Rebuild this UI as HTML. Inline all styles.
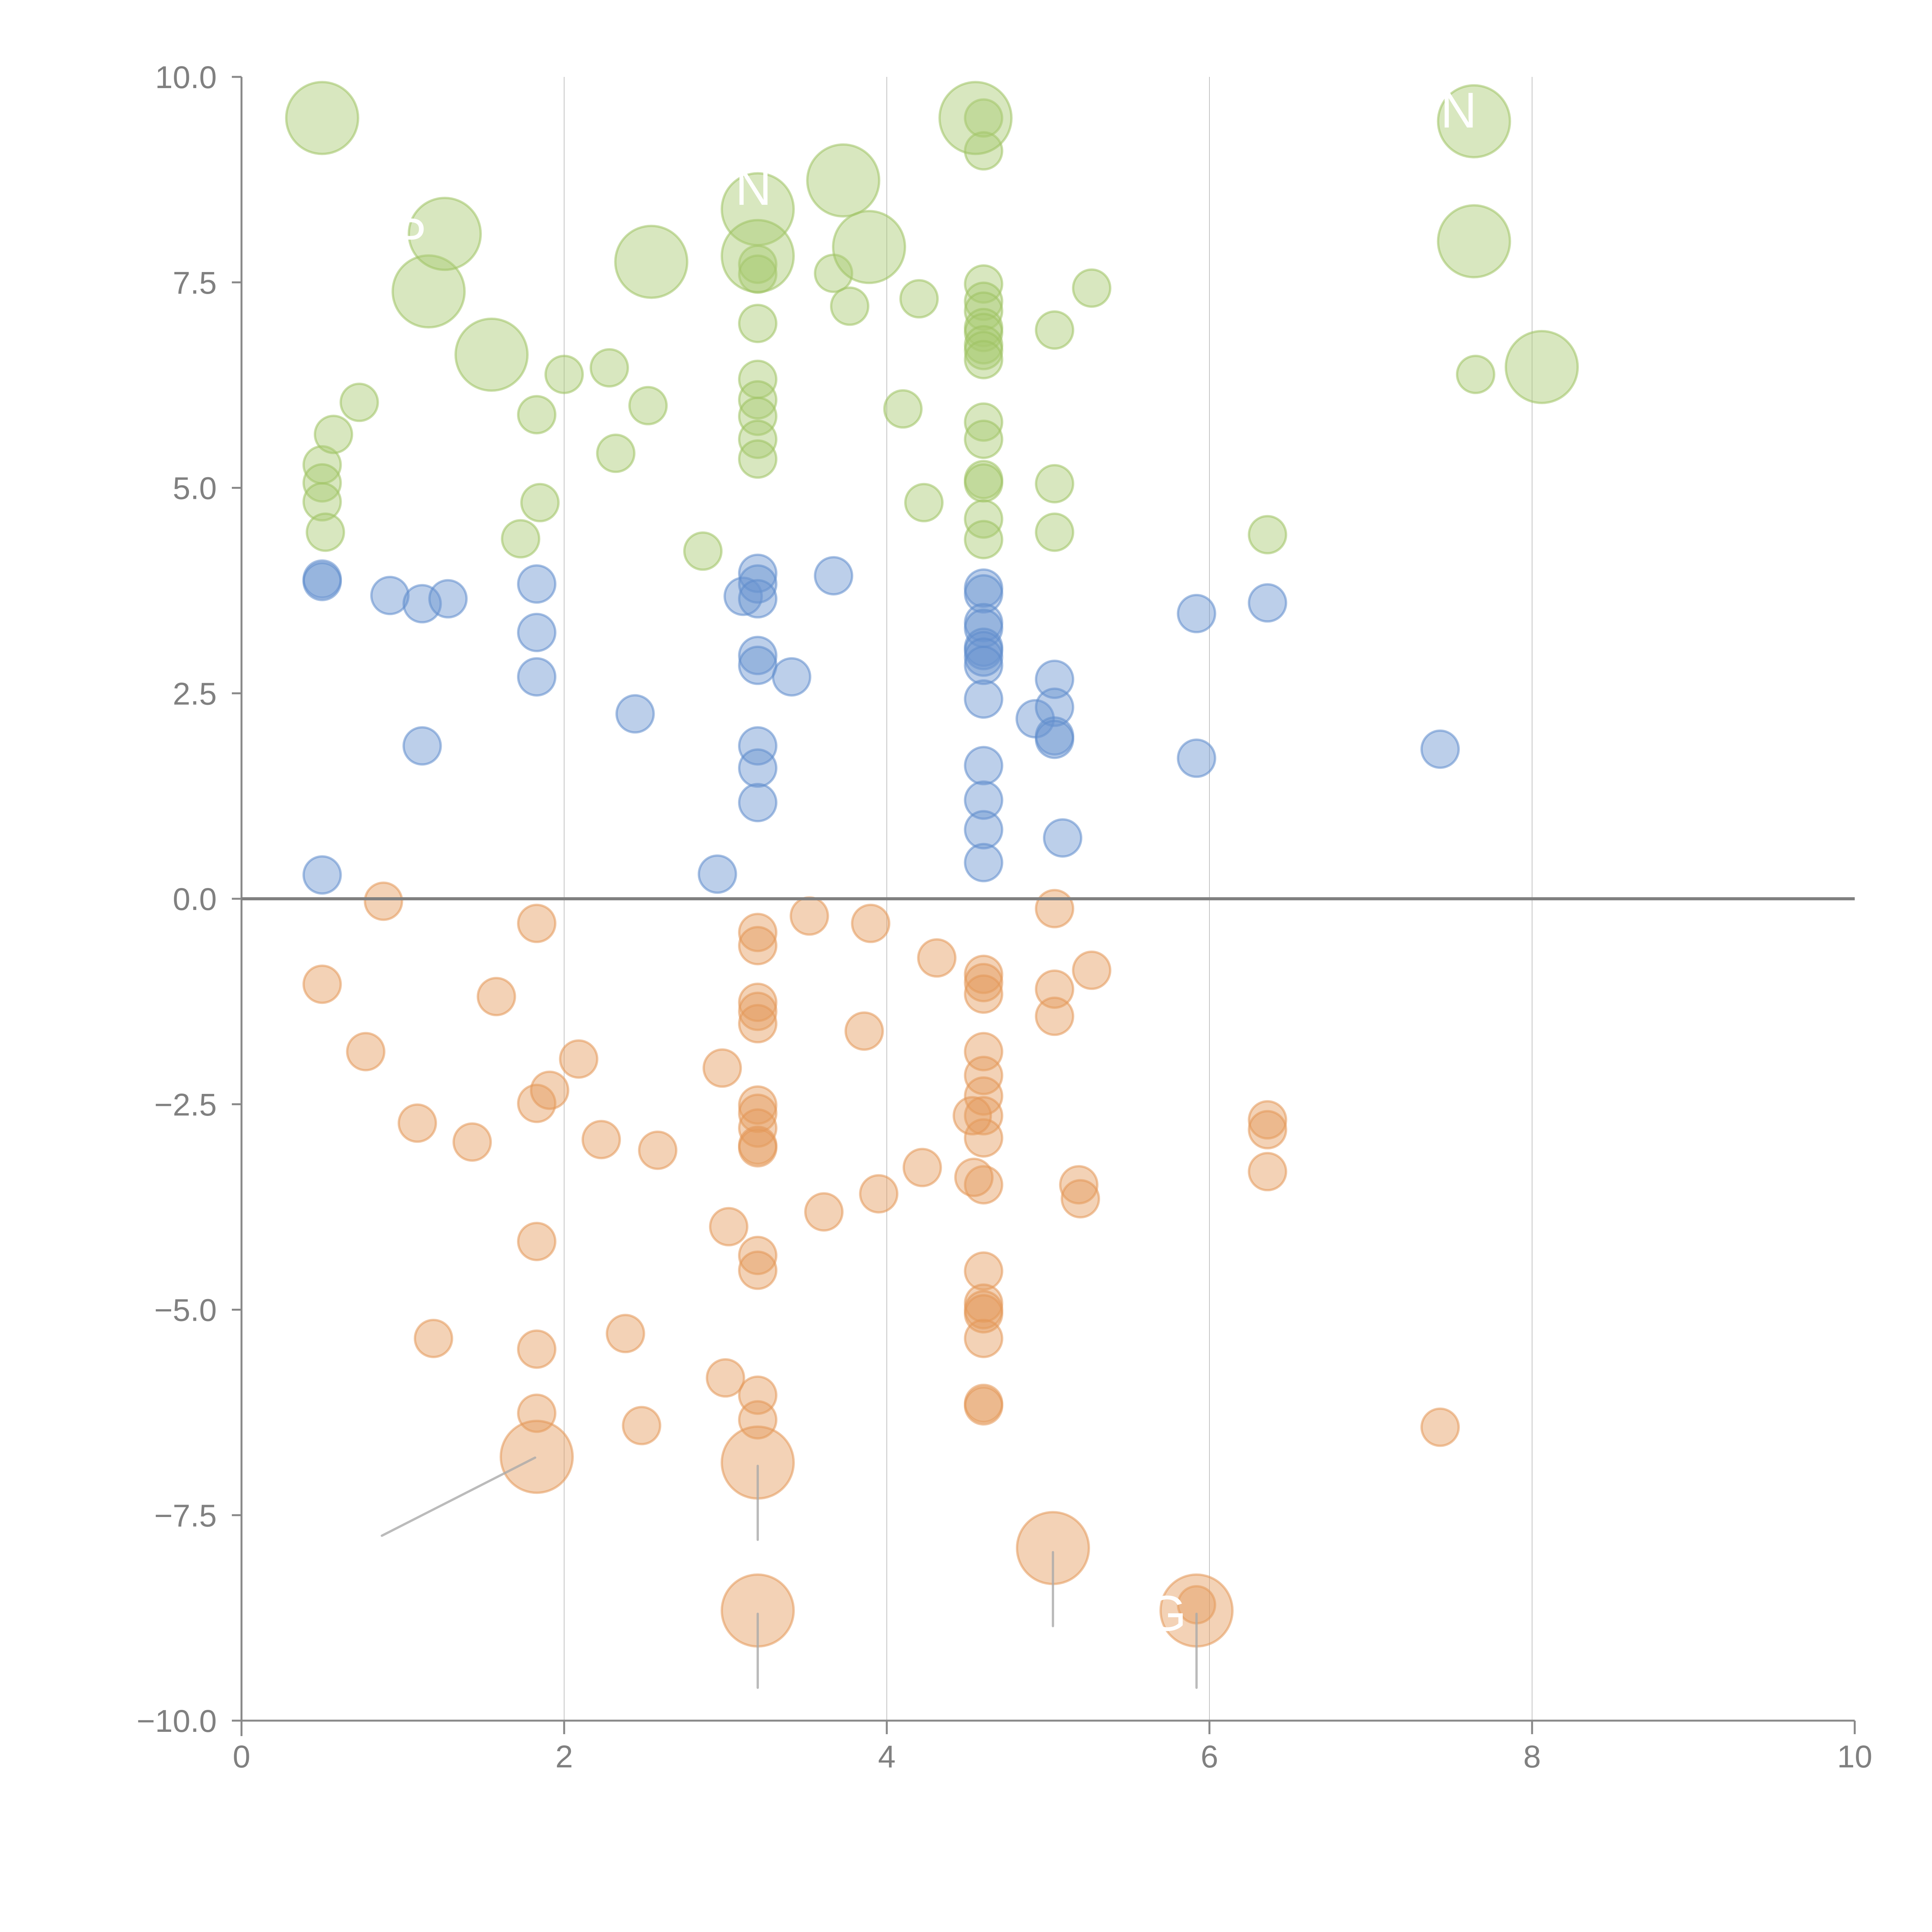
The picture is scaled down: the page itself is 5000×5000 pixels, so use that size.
<!DOCTYPE html>
<html><head><meta charset="utf-8"><style>
html,body{margin:0;padding:0;background:#fff;}
svg{display:block;}
text{font-family:"Liberation Sans",sans-serif;}
</style></head><body>
<svg id="chart" width="5000" height="5000" viewBox="0 0 5000 5000" xmlns="http://www.w3.org/2000/svg"></svg>
<script>
const xTicks=[0,2,4,6,8,10];
const xTickLabels=["0","2","4","6","8","10"];
const yTicks=[-10,-7.5,-5,-2.5,0,2.5,5,7.5,10];
const yTickLabels=["\u221210.0","\u22127.5","\u22125.0","\u22122.5","0.0","2.5","5.0","7.5","10.0"];
// green series: x, y, size (1 small, 2 large)
const greenX=[0.5,0.5,0.5,0.52,0.57,0.73,1.73,1.83,1.85,2.0,2.28,2.32,2.52,2.86,3.2,3.2,3.2,3.2,3.2,3.2,3.2,3.2,3.67,3.77,4.1,4.2,4.23,4.6,4.6,4.6,4.6,4.6,4.6,4.6,4.6,4.6,4.6,4.6,4.6,4.6,4.6,4.6,4.6,5.04,5.04,5.04,5.27,6.36,7.65,
0.5,1.16,1.26,1.55,2.54,3.2,3.2,3.73,3.89,4.55,7.64,7.64,8.06];
const greenY=[5.28,5.06,4.83,4.46,5.65,6.04,4.38,5.89,4.82,6.38,6.46,5.42,6.0,4.23,7.0,6.32,6.07,5.87,5.59,5.35,7.72,7.6,7.61,7.21,5.96,7.3,4.82,9.5,9.1,7.48,7.27,7.15,6.95,6.89,6.74,6.67,6.56,5.8,5.59,5.1,5.06,4.62,4.37,6.92,5.05,4.46,7.43,4.43,6.38,
9.5,7.39,8.09,6.62,7.75,8.39,7.82,8.74,7.93,9.5,9.46,8.0,6.47];
const greenSize=[1,1,1,1,1,1,1,1,1,1,1,1,1,1,1,1,1,1,1,1,1,1,1,1,1,1,1,1,1,1,1,1,1,1,1,1,1,1,1,1,1,1,1,1,1,1,1,1,1,
2,2,2,2,2,2,2,2,2,2,2,2,2];
const blueX=[0.5,0.5,0.5,0.92,1.12,1.28,1.12,1.83,1.83,1.83,2.44,2.95,3.11,3.2,3.2,3.2,3.2,3.2,3.2,3.2,3.2,3.41,3.67,4.6,4.6,4.6,4.6,4.6,4.6,4.6,4.6,4.6,4.6,4.6,4.6,4.6,4.92,5.04,5.04,5.04,5.04,5.09,5.92,5.92,6.36,7.43];
const blueY=[3.89,3.86,0.29,3.69,3.59,3.65,1.86,3.83,3.24,2.7,2.25,0.3,3.68,3.96,3.83,3.65,2.96,2.84,1.86,1.59,1.17,2.7,3.93,3.78,3.71,3.36,3.29,3.06,3.02,2.94,2.84,2.43,1.62,1.2,0.84,0.44,2.19,2.67,2.33,1.98,1.94,0.74,3.47,1.71,3.6,1.82];
const orangeX=[0.5,0.88,0.77,1.09,1.19,1.43,1.58,1.83,1.83,1.91,1.83,1.83,1.83,2.09,2.23,2.38,2.48,2.58,2.98,3.0,3.02,3.2,3.2,3.2,3.2,3.2,3.2,3.2,3.2,3.2,3.2,3.2,3.2,3.2,3.2,3.52,3.61,3.86,3.9,3.95,4.22,4.31,4.6,4.6,4.6,4.6,4.6,4.6,4.6,4.6,4.6,4.6,4.6,4.6,4.6,4.6,4.6,4.6,4.53,4.54,5.04,5.04,5.04,5.27,5.19,5.2,5.92,6.36,6.36,6.36,7.43,
1.83,3.2,3.2,5.03,5.92];
const orangeY=[-1.04,-0.03,-1.86,-2.73,-5.35,-2.96,-1.19,-0.3,-2.49,-2.33,-4.17,-5.48,-6.26,-1.95,-2.93,-5.29,-6.41,-3.06,-2.06,-5.83,-3.99,-0.41,-0.57,-1.26,-1.37,-1.52,-2.51,-2.61,-2.79,-3.0,-3.03,-4.34,-4.52,-6.04,-6.34,-0.21,-3.81,-1.61,-0.3,-3.59,-3.27,-0.72,-0.92,-1.02,-1.16,-1.86,-2.15,-2.4,-2.64,-2.91,-3.48,-4.53,-4.92,-5.0,-5.05,-5.35,-6.14,-6.17,-2.64,-3.39,-0.12,-1.1,-1.43,-0.87,-3.48,-3.65,-8.59,-2.69,-2.81,-3.32,-6.43,
-6.79,-6.86,-8.66,-7.9,-8.66];
const orangeSize=orangeX.map((v,i)=>i>=orangeX.length-5?2:1);
const blueSize=blueX.map(()=>1);
// leader lines for large orange bubbles: [x1,y1,x2,y2] in data units
const leaderX1=[1.82,3.2,3.2,5.03,5.92];
const leaderY1=[-6.8,-6.9,-8.7,-7.95,-8.7];
const leaderX2=[0.87,3.2,3.2,5.03,5.92];
const leaderY2=[-7.75,-7.8,-9.6,-8.85,-9.6];

const NS="http://www.w3.org/2000/svg";
const svg=document.getElementById('chart');
const X0=625,X1=4800,Y0=4453,Y1=199;
function sx(v){return X0+(v-0)/(10-0)*(X1-X0);}
function sy(v){return Y0-(v+10)/20*(Y0-Y1);}
function mk(tag,attrs,parent){const e=document.createElementNS(NS,tag);for(const k in attrs)e.setAttribute(k,attrs[k]);(parent||svg).appendChild(e);return e;}

const grid=mk('g',{});


[2,4,6,8].forEach(v=>{
  const l=mk('line',{x1:sx(v),x2:sx(v),y1:Y1,y2:Y0,stroke:'#888','stroke-width':2,'stroke-opacity':0.5},grid);
  
  
});

const axes=mk('g',{});


const ya=mk('line',{x1:X0,x2:X0,y1:Y1,y2:Y0+40,stroke:'#888','stroke-width':5},axes);


const xa=mk('line',{x1:X0-25,x2:X1,y1:Y0,y2:Y0,stroke:'#888','stroke-width':5},axes);


yTicks.forEach((v,i)=>{
  const t=mk('line',{x1:X0-25,x2:X0,y1:sy(v),y2:sy(v),stroke:'#888','stroke-width':5},axes);
  
  
  const tx=mk('text',{x:561,y:sy(v)+29,'text-anchor':'end','font-size':82,fill:'#808080'},axes);
  tx.textContent=yTickLabels[i];
  
  
});
xTicks.forEach((v,i)=>{
  const t=mk('line',{x1:sx(v),x2:sx(v),y1:Y0,y2:Y0+35,stroke:'#888','stroke-width':5},axes);
  
  
  const tx=mk('text',{x:sx(v),y:4574,'text-anchor':'middle','font-size':82,fill:'#808080'},axes);
  tx.textContent=xTickLabels[i];
  
  
});

function series(xs,ys,ss,fill,stroke,name){
  const g=mk('g',{});
  
  
  xs.forEach((x,i)=>{
    const c=mk('circle',{cx:sx(x),cy:sy(ys[i]),r:ss[i]===2?93:48,fill:fill,'fill-opacity':0.45,stroke:stroke,'stroke-opacity':0.55,'stroke-width':6},g);
    
    
  });
}
series(greenX,greenY,greenSize,'#a9c972','#9fc263','green');
series(blueX,blueY,blueSize,'#6b95d0','#5f8ccc','blue');
series(orangeX,orangeY,orangeSize,'#e59b5e','#e39757','orange');

const lg=mk('g',{});


leaderX1.forEach((x,i)=>{
  const l=mk('line',{x1:sx(x),y1:sy(leaderY1[i]),x2:sx(leaderX2[i]),y2:sy(leaderY2[i]),stroke:'#aaa','stroke-opacity':0.8,'stroke-width':6,'stroke-linecap':'round'},lg);
  
  
});

const zl=mk('line',{x1:X0,x2:X1,y1:sy(0),y2:sy(0),stroke:'#808080','stroke-width':8});



const labels=[["N",1950,530],["N",3775,330],["P",1060,655],["G",3020,4220]];
labels.forEach(a=>{
  const t=mk('text',{x:a[1],y:a[2],'font-size':130,fill:'#fff','text-anchor':'middle'});
  t.textContent=a[0];
  
  
});
</script>
</body></html>
